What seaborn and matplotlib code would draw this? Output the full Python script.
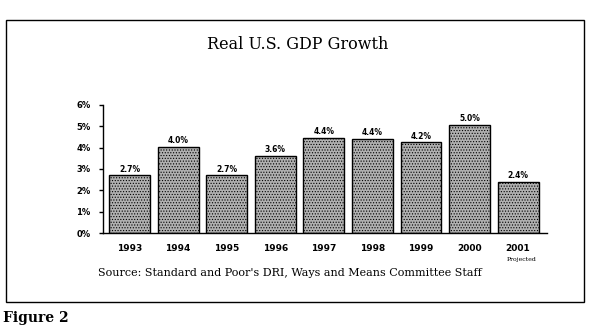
import matplotlib
matplotlib.use("Agg")
import matplotlib.pyplot as plt
from matplotlib.patches import Rectangle
import seaborn as sns
import pandas as pd

years = ["1993", "1994", "1995", "1996", "1997", "1998", "1999", "2000", "2001"]
growth = [2.7, 4.05, 2.7, 3.6, 4.45, 4.4, 4.25, 5.05, 2.4]
bar_labels = ["2.7%", "4.0%", "2.7%", "3.6%", "4.4%", "4.4%", "4.2%", "5.0%", "2.4%"]
yticks = [0, 1, 2, 3, 4, 5, 6]
ytick_labels = ["0%", "1%", "2%", "3%", "4%", "5%", "6%"]

df = pd.DataFrame({"year": years, "growth": growth})

sns.set_theme(style="white")
plt.rcParams["font.family"] = ["DejaVu Sans"]
plt.rcParams["text.color"] = "black"
plt.rcParams["xtick.color"] = "black"
plt.rcParams["ytick.color"] = "black"
plt.rcParams["hatch.color"] = "#707070"
plt.rcParams["hatch.linewidth"] = 0.5

fig = plt.figure(figsize=(5.91, 3.32), dpi=100)
fig.patch.set_facecolor("white")

# outer frame
fig.patches.append(Rectangle((0.010, 0.090), 0.978, 0.849, transform=fig.transFigure,
                             fill=False, edgecolor="black", linewidth=1.0))

ax = fig.add_axes([0.174, 0.298, 0.752, 0.386])
sns.barplot(data=df, x="year", y="growth", color="#b0b0b0", width=0.84,
            edgecolor="black", linewidth=1.0, ax=ax, saturation=1)
for p in ax.patches:
    p.set_hatch("......")

for i, (v, lab) in enumerate(zip(growth, bar_labels)):
    ax.text(i, v + 0.08, lab, ha="center", va="bottom", fontsize=5.5, fontweight="bold")

ax.set_ylim(0, 6)
ax.set_xlim(-0.55, 8.6)
ax.set_yticks(yticks)
ax.set_yticklabels(ytick_labels, fontsize=6, fontweight="bold")
ax.set_xticks(range(len(years)))
ax.set_xticklabels(years, fontsize=6.5, fontweight="bold")
ax.set_xlabel("")
ax.set_ylabel("")
for s in ["top", "right"]:
    ax.spines[s].set_visible(False)
ax.spines["left"].set_color("black")
ax.spines["bottom"].set_color("black")
ax.spines["left"].set_linewidth(1.0)
ax.spines["bottom"].set_linewidth(1.0)
ax.tick_params(axis="y", left=True, length=3, width=1, color="black", pad=6)
ax.tick_params(axis="x", bottom=False, pad=2)
ax.set_facecolor("white")

fig.text(0.503, 0.867, "Real U.S. GDP Growth", ha="center", va="center",
         fontsize=11.5, family="DejaVu Serif")
fig.text(0.490, 0.178, "Source: Standard and Poor's DRI, Ways and Means Committee Staff",
         ha="center", va="center", fontsize=8, family="DejaVu Serif")
fig.text(0.882, 0.218, "Projected", ha="center", va="center", fontsize=4.5,
         family="DejaVu Serif")
fig.text(0.005, 0.042, "Figure 2", ha="left", va="center", fontsize=10,
         fontweight="bold", family="DejaVu Serif")

fig.savefig("out.png", dpi=100)
